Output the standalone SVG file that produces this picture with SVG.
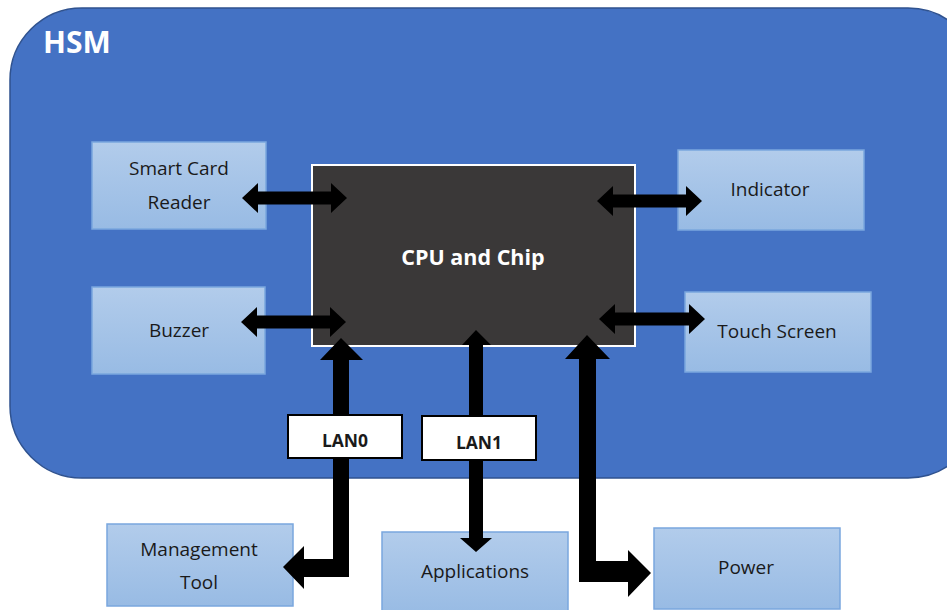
<svg xmlns="http://www.w3.org/2000/svg" width="947" height="610" viewBox="0 0 947 610">
<defs>
<linearGradient id="boxg" x1="0" y1="0" x2="0" y2="1">
<stop offset="0" stop-color="#B2CCEB"/>
<stop offset="1" stop-color="#98BBE4"/>
</linearGradient>
<style>
.box{fill:url(#boxg);stroke:#7AA7DE;stroke-width:1.5}
.lbl{font-family:"Open Sans","Noto Sans",sans-serif;font-size:19px;fill:#1a1a1a;text-anchor:middle}
.arr{fill:#000}
.lan{fill:#fff;stroke:#000;stroke-width:2}
.lant{font-family:"Open Sans","Noto Sans",sans-serif;font-size:17.5px;font-weight:bold;fill:#1a1a1a;text-anchor:middle}
</style>
</defs>
<rect width="947" height="610" fill="#fff"/>
<g id="hsm">
<rect x="10" y="8" width="970" height="470" rx="72" ry="72" fill="#4472C4" stroke="#2F528F" stroke-width="1.5"/>
<text x="43" y="53" font-family="'Open Sans','Noto Sans',sans-serif" font-size="30" font-weight="bold" fill="#fff">HSM</text>
</g>
<g id="cpu">
<rect x="312" y="165" width="323" height="181" fill="#3A3838" stroke="#fff" stroke-width="2"/>
<text x="473" y="265" font-family="'Open Sans','Noto Sans',sans-serif" font-size="21.5" font-weight="bold" fill="#fff" text-anchor="middle">CPU and Chip</text>
</g>
<g id="smartcard">
<rect class="box" x="92" y="142" width="174" height="87"/>
<text class="lbl" x="179" y="175">Smart Card</text>
<text class="lbl" x="179" y="209">Reader</text>
</g>
<g id="buzzer">
<rect class="box" x="92" y="287" width="173" height="87"/>
<text class="lbl" x="179" y="337">Buzzer</text>
</g>
<g id="indicator">
<rect class="box" x="678" y="150" width="186" height="80"/>
<text class="lbl" x="770" y="196">Indicator</text>
</g>
<g id="touchscreen">
<rect class="box" x="685" y="292" width="186" height="80"/>
<text class="lbl" x="777" y="338">Touch Screen</text>
</g>
<g id="management">
<rect class="box" x="107" y="524" width="186" height="82"/>
<text class="lbl" x="199" y="556">Management</text>
<text class="lbl" x="199" y="589">Tool</text>
</g>
<g id="applications">
<rect class="box" x="382" y="532" width="186" height="82"/>
<text class="lbl" x="475" y="578">Applications</text>
</g>
<g id="power">
<rect class="box" x="654" y="528" width="186" height="81"/>
<text class="lbl" x="746" y="574">Power</text>
</g>
<g id="connectors">
<polygon class="arr" points="242,198 258,183 258,191.5 331,191.5 331,183 347,198 331,213 331,204.5 258,204.5 258,213"/>
<polygon class="arr" points="241,322 257,307 257,315.5 330,315.5 330,307 346,322 330,337 330,328.5 257,328.5 257,337"/>
<polygon class="arr" points="597,201 613,186 613,194.5 686,194.5 686,186 702,201 686,216 686,207.5 613,207.5 613,216"/>
<polygon class="arr" points="599,319 615,304 615,312.5 689,312.5 689,304 705,319 689,334 689,325.5 615,325.5 615,334"/>
<polygon class="arr" points="341,338 363,360 349,360 349,577 304,577 304,589 283,567 304,546 304,559 333,559 333,360 320,360"/>
<polygon class="arr" points="476,330 491,345 483,345 483,538 492,538 476,552 460,538 469,538 469,345 462,345"/>
<polygon class="arr" points="587,335 610,359 596,359 596,561 628,561 628,550 651,573 628,597 628,582 579,582 579,359 565,359"/>
</g>
<g id="lan0">
<rect class="lan" x="288" y="415" width="114" height="43"/>
<text class="lant" x="345" y="447">LAN0</text>
</g>
<g id="lan1">
<rect class="lan" x="422" y="416" width="114" height="44"/>
<text class="lant" x="479" y="449">LAN1</text>
</g>
</svg>
